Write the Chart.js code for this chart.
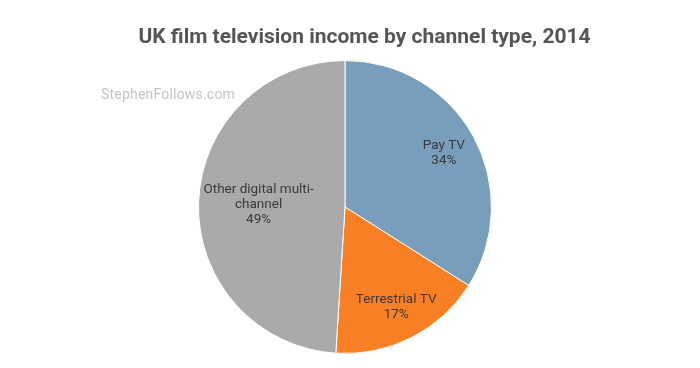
<!DOCTYPE html>
<html>
<head>
<meta charset="utf-8">
<script src="https://cdn.jsdelivr.net/npm/chart.js@4"></script>
<style>
    html, body { margin: 0; padding: 0; background: #fff; }
    #wrap { position: relative; width: 700px; height: 368px; }
    #title {
        position: absolute; left: 0; top: 26px; width: 729px; text-align: center;
        font: bold 21px/21px Roboto, sans-serif; color: #555;
    }
    #mark {
        position: absolute; left: 101px; top: 86px;
        font: 14px Roboto, sans-serif; color: #c4c4c4; letter-spacing: 0.2px;
    }
    canvas { position: absolute; left: 0; top: 0; }
</style>
</head>
<body>
<div id="wrap">
    <canvas id="pieChart" width="700" height="368"></canvas>
    <div id="title">UK film television income by channel type, 2014</div>
    <div id="mark">StephenFollows.com</div>
</div>
<script>
// ========================
// DATA
// ========================
const channels = ['Pay TV', 'Terrestrial TV', 'Other digital multi-channel'];
const labelLines = [['Pay TV'], ['Terrestrial TV'], ['Other digital multi-', 'channel']];
const shares = [34, 17, 49];
const colors = ['#789ebb', '#f97f24', '#aaaaaa'];

// ========================
// SLICE LABELS
// ========================
const sliceLabels = {
    id: 'sliceLabels',
    afterDatasetsDraw(chart, args, opts) {
        const ctx = chart.ctx;
        const meta = chart.getDatasetMeta(0);
        ctx.save();
        ctx.font = '13.5px Roboto, sans-serif';
        ctx.fillStyle = '#3a3a3a';
        ctx.textAlign = 'center';
        ctx.textBaseline = 'middle';
        meta.data.forEach(function(arc, i) {
            const p = arc.getProps(['x', 'y', 'startAngle', 'endAngle', 'outerRadius'], true);
            const mid = (p.startAngle + p.endAngle) / 2;
            const r = p.outerRadius * opts.ratios[i];
            const cx = p.x + Math.cos(mid) * r;
            const cy = p.y + Math.sin(mid) * r;
            const lines = labelLines[i].concat([shares[i] + '%']);
            const top = cy - (lines.length - 1) * 15 / 2;
            lines.forEach(function(line, j) {
                ctx.fillText(line, cx, top + j * 15);
            });
        });
        ctx.restore();
    }
};

new Chart(document.getElementById('pieChart'), {
    type: 'pie',
    data: {
        labels: channels,
        datasets: [{
            data: shares,
            backgroundColor: colors,
            borderColor: '#ffffff',
            borderWidth: 1
        }]
    },
    options: {
        responsive: false,
        animation: false,
        layout: { padding: { left: 0, right: 10, top: 60, bottom: 14 } },
        plugins: {
            legend: { display: false },
            tooltip: { enabled: false },
            sliceLabels: { ratios: [0.77, 0.77, 0.59] }
        }
    },
    plugins: [sliceLabels]
});
</script>
</body>
</html>
